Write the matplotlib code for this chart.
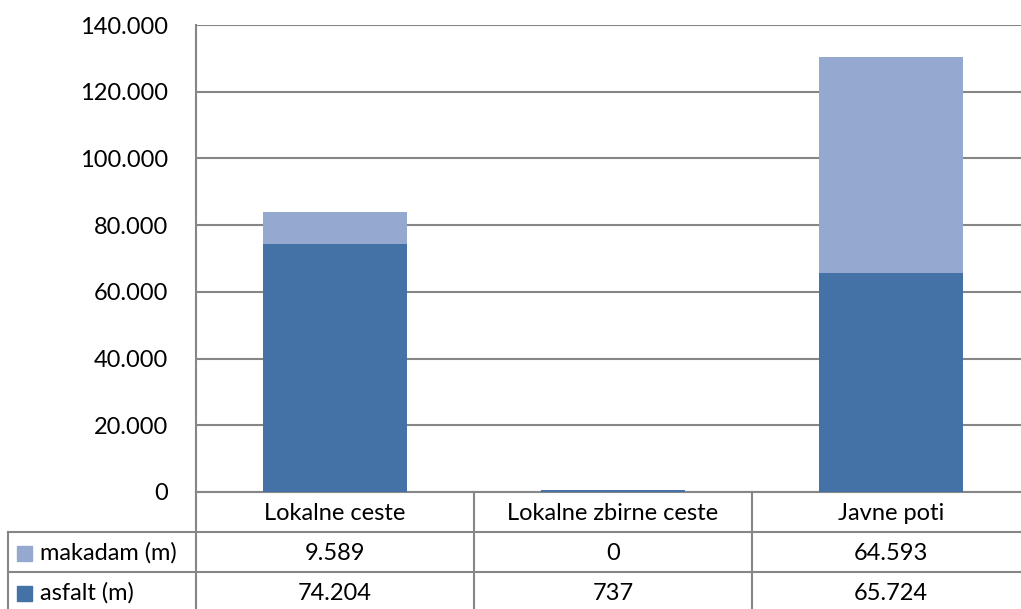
import matplotlib
matplotlib.use("Agg")
import matplotlib.pyplot as plt
from matplotlib.ticker import FuncFormatter
from matplotlib.patches import Rectangle
from matplotlib.lines import Line2D

# data
categories = ["Lokalne ceste", "Lokalne zbirne ceste", "Javne poti"]
asfalt = [74204, 737, 65724]
makadam = [9589, 0, 64593]
series_names = ["makadam (m)", "asfalt (m)"]

DARK = "#4472A7"
LIGHT = "#95A9D0"
GRID = "#868686"
W, H = 1021, 609
FS = 17

plt.rcParams['font.family'] = ['Lato', 'DejaVu Sans']


def fx(x):
    return x / W


def fy(y):
    return (H - y) / H


def dots(v, pos=None):
    return "{:,.0f}".format(v).replace(",", ".")


fig = plt.figure(figsize=(W / 100, H / 100), dpi=100)
ax = fig.add_axes([fx(196), fy(492), fx(1030) - fx(196), fy(25) - fy(492)])

xs = range(len(categories))
ax.bar(xs, asfalt, width=0.515, color=DARK, zorder=3)
ax.bar(xs, makadam, width=0.515, bottom=asfalt, color=LIGHT, zorder=3)

ax.set_xlim(-0.5, len(categories) - 0.5)
ax.set_ylim(0, 140000)
ax.set_yticks(range(0, 140001, 20000))
ax.yaxis.set_major_formatter(FuncFormatter(dots))
ax.tick_params(axis='y', length=0, pad=20, labelsize=FS)
ax.tick_params(axis='x', length=0, labelbottom=False)
ax.grid(axis='y', color=GRID, linewidth=1.5, zorder=0)
for s in ["top", "right"]:
    ax.spines[s].set_visible(False)
for s in ["left", "bottom"]:
    ax.spines[s].set_color(GRID)
    ax.spines[s].set_linewidth(1.5)

# data table under the axes
tf = fig.transFigure
col_w = 278
col_edges = [196 + i * col_w for i in range(len(categories) + 1)]
row_lines = [492, 532, 572, 612]
lw = 1.5
for x in col_edges:
    fig.add_artist(Line2D([fx(x), fx(x)], [fy(492), fy(612)], color=GRID, lw=lw, transform=tf))
fig.add_artist(Line2D([fx(8), fx(8)], [fy(532), fy(612)], color=GRID, lw=lw, transform=tf))
for y in row_lines[1:]:
    fig.add_artist(Line2D([fx(8), fx(1030)], [fy(y), fy(y)], color=GRID, lw=lw, transform=tf))

for i, name in enumerate(categories):
    cx = col_edges[i] + col_w / 2
    fig.text(fx(cx), fy(513), name, ha='center', va='center', fontsize=FS)
    fig.text(fx(cx), fy(553), dots(makadam[i]), ha='center', va='center', fontsize=FS)
    fig.text(fx(cx), fy(593), dots(asfalt[i]), ha='center', va='center', fontsize=FS)

for (name, color, yc) in [(series_names[0], LIGHT, 553), (series_names[1], DARK, 593)]:
    fig.add_artist(Rectangle((fx(17), fy(yc + 7.5)), fx(15), fy(0) - fy(15), color=color, transform=tf))
    fig.text(fx(40), fy(yc), name, ha='left', va='center', fontsize=FS)

fig.savefig("out.png", dpi=100)
